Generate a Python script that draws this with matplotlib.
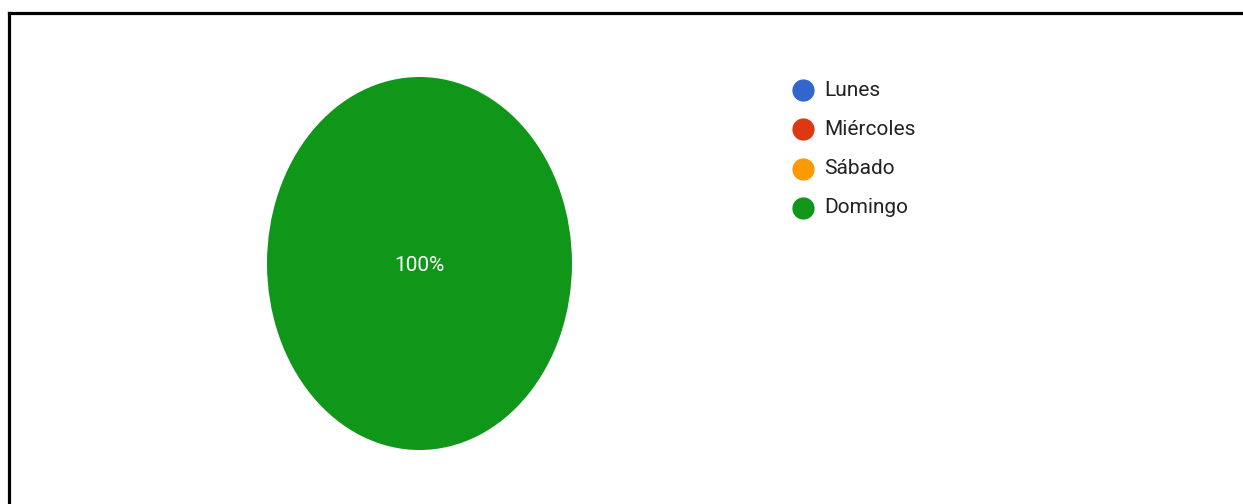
import matplotlib.pyplot as plt
from matplotlib.lines import Line2D

# Responses per day
days = ['Lunes', 'Miércoles', 'Sábado', 'Domingo']
counts = [0, 0, 0, 1]
colors = ['#3366cc', '#dc3912', '#ff9900', '#109618']

plt.rcParams['font.family'] = ['Roboto', 'DejaVu Sans']

W, H = 1243, 504
fig = plt.figure(figsize=(W / 100, H / 100), dpi=100)
fig.patch.set_facecolor('white')

# pie area (stretched, not circular)
ax = fig.add_axes([267 / W, 1 - 450 / H, 305 / W, 373 / H])
ax.pie(counts, colors=colors, startangle=90, counterclock=False,
       wedgeprops={'linewidth': 0})
ax.set_aspect('auto')
ax.set_xlim(-1, 1)
ax.set_ylim(-1, 1)
ax.axis('off')

total = sum(counts)
for n in counts:
    if n > 0:
        ax.text(0, -0.01, f'{100 * n / total:.0f}%', color='white',
                fontsize=15, ha='center', va='center')

# legend: round marker + label per day
row_y = 90
for day, c in zip(days, colors):
    fy = 1 - row_y / H
    fig.add_artist(Line2D([803 / W], [fy], marker='o', linestyle='none',
                          markersize=15, markerfacecolor=c, markeredgecolor=c))
    fig.text(824 / W, fy, day, fontsize=15, color='#222222',
             ha='left', va='center')
    row_y += 39.3

# frame lines along top and left edge
fig.add_artist(Line2D([9 / W, 1], [1 - 13 / H, 1 - 13 / H], color='black', lw=2.3,
                      solid_capstyle='projecting'))
fig.add_artist(Line2D([9 / W, 9 / W], [1 - 13 / H, 0], color='black', lw=2.3,
                      solid_capstyle='projecting'))

fig.savefig('out.png', dpi=100, facecolor='white')
